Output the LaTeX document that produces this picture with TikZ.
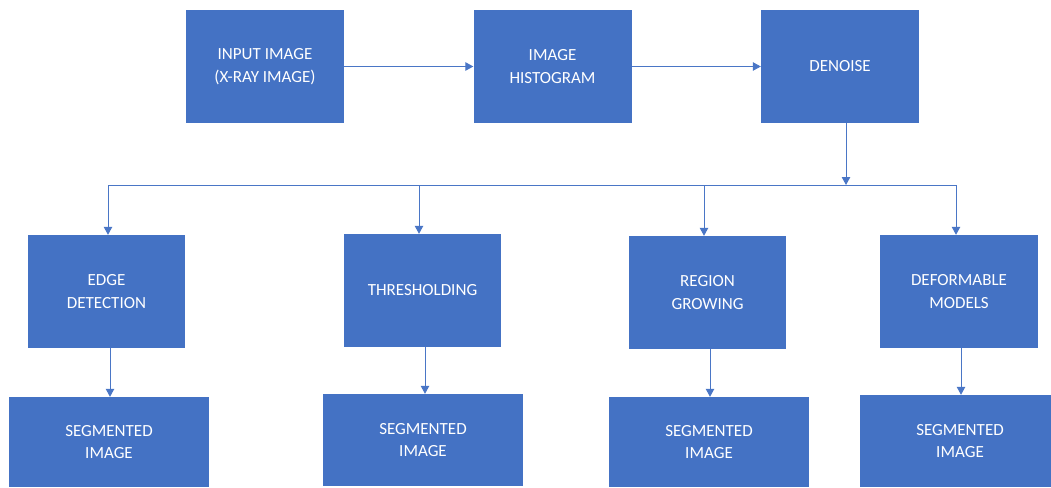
\documentclass[tikz,border=0pt]{standalone}
\usepackage{fontspec}
\setmainfont{Carlito}
\usetikzlibrary{arrows.meta}
\definecolor{boxblue}{HTML}{4472C4}
\definecolor{lineblue}{HTML}{4A76C6}
\begin{document}
\begin{tikzpicture}[x=1pt,y=-1pt,
  blk/.style={rectangle, fill=boxblue, draw=none, text=white, align=center,
    inner sep=0pt, font=\fontsize{17}{22.5}\selectfont},
  wtop/.style={blk, minimum width=158pt, minimum height=113pt},
  wseg/.style={blk, minimum width=200pt, minimum height=91pt},
  conn/.style={draw=lineblue, line width=1pt},
  arr/.style={conn, -{Triangle[length=8pt,width=8.5pt]}}]
\useasboundingbox (0,0) rectangle (1051,487);
\begin{scope}
\clip (0,0) rectangle (1051,487);
\node[wtop] (inp) at (265,66.5) {INPUT IMAGE\\(X-RAY IMAGE)};
\node[wtop] (hist) at (552.5,66.5) {IMAGE\\HISTOGRAM};
\node[wtop] (den) at (840,66.5) {DENOISE};
\node[wtop, minimum width=157pt] (edge) at (106.5,291.5) {EDGE\\DETECTION};
\node[wtop, minimum width=157pt] (thr) at (422.5,290.5) {THRESHOLDING};
\node[wtop, minimum width=157pt] (reg) at (707.5,292.5) {REGION\\GROWING};
\node[wtop] (def) at (959,291.5) {DEFORMABLE\\MODELS};
\node[wseg, minimum height=90pt] (seg1) at (109,442) {SEGMENTED\\IMAGE};
\node[wseg, minimum height=92pt] (seg2) at (423,440) {SEGMENTED\\IMAGE};
\node[wseg, minimum height=90pt] (seg3) at (709,442) {SEGMENTED\\IMAGE};
\node[wseg, minimum height=92pt] (seg4) at (960,441) {SEGMENTED\\IMAGE};
\end{scope}
\coordinate (bus) at (846,185);
\coordinate (b1) at (108,185);
\coordinate (b2) at (419,185);
\coordinate (b3) at (704,185);
\coordinate (b4) at (956,185);
% top row
\draw[arr] (inp.east) -- (hist.west);
\draw[arr] (hist.east) -- (den.west);
\draw[arr] (bus |- den.south) -- (bus);
% bus
\draw[conn] (b1) -- (b4);
\draw[arr] (b1) -- (b1 |- edge.north);
\draw[arr] (b2) -- (b2 |- thr.north);
\draw[arr] (b3) -- (b3 |- reg.north);
\draw[arr] (b4) -- (b4 |- def.north);
% down to segmented
\coordinate (d1) at (110,0);
\coordinate (d2) at (425,0);
\coordinate (d3) at (710,0);
\coordinate (d4) at (961,0);
\draw[arr] (d1 |- edge.south) -- (d1 |- seg1.north);
\draw[arr] (d2 |- thr.south) -- (d2 |- seg2.north);
\draw[arr] (d3 |- reg.south) -- (d3 |- seg3.north);
\draw[arr] (d4 |- def.south) -- (d4 |- seg4.north);
\end{tikzpicture}
\end{document}
